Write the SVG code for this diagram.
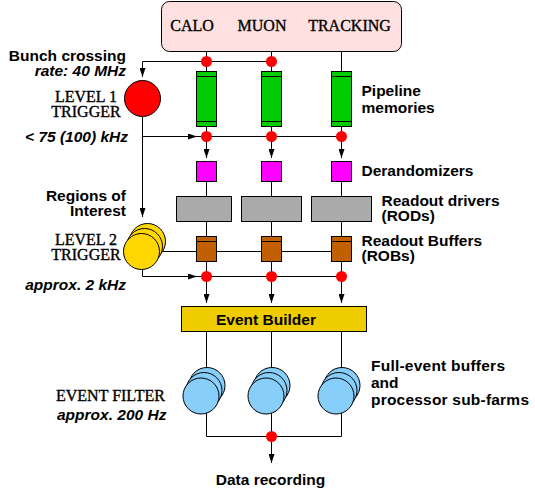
<svg xmlns="http://www.w3.org/2000/svg" width="535" height="492" viewBox="0 0 535 492">
<style>
.ln{fill:none;stroke:#000;stroke-width:1}
.bx{stroke:#000;stroke-width:1}
.dot{fill:#ff0000;stroke:none}
.serif{font-family:"Liberation Serif","Times New Roman",serif;font-size:16px;fill:#000;stroke:#000;stroke-width:0.35}
.sans{font-family:"Liberation Sans",Arial,sans-serif;font-weight:bold;font-size:15.5px;fill:#000}
.it{font-style:italic}
</style>
<defs>
<marker id="ah" viewBox="0 0 9 6" refX="9" refY="3" markerWidth="9" markerHeight="6" markerUnits="userSpaceOnUse" orient="auto">
<path d="M0,0 L9,3 L0,6 z" fill="#000"/>
</marker>
</defs>
<rect width="535" height="492" fill="#fff"/>

<g id="connectors" class="ln">
<path d="M206.5,51 V71 M271.5,51 V71 M341.5,51 V71"/>
<path d="M271.5,61.5 H142.5 V77" marker-end="url(#ah)"/>
<path d="M142.5,116 V217" marker-end="url(#ah)"/>
<path d="M142.5,136.5 H197" marker-end="url(#ah)"/>
<path d="M197,136.5 H341.5"/>
<path d="M206.5,126 V158" marker-end="url(#ah)"/>
<path d="M271.5,126 V158" marker-end="url(#ah)"/>
<path d="M341.5,126 V158" marker-end="url(#ah)"/>
<path d="M206.5,181 V236 M271.5,181 V236 M341.5,181 V236"/>
<path d="M160,251.5 H331"/>
<path d="M142.5,269 V276.5 H197" marker-end="url(#ah)"/>
<path d="M197,276.5 H341.5"/>
<path d="M206.5,261 V303" marker-end="url(#ah)"/>
<path d="M271.5,261 V303" marker-end="url(#ah)"/>
<path d="M341.5,261 V303" marker-end="url(#ah)"/>
<path d="M206.5,331 V372 M271.5,331 V372 M341.5,331 V372"/>
<path d="M206.5,413 V436.5 H341.5 V413 M271.5,413 V436.5"/>
<path d="M271.5,436.5 V463" marker-end="url(#ah)"/>
</g>

<g id="detectors">
<rect class="bx" x="161.5" y="1.5" width="240" height="50" rx="8" fill="#ffe0e0"/>
<text class="serif" x="192" y="30.5" text-anchor="middle">CALO</text>
<text class="serif" x="262" y="30.5" text-anchor="middle">MUON</text>
<text class="serif" x="349.5" y="30.5" text-anchor="middle">TRACKING</text>
</g>

<g id="dots">
<circle class="dot" cx="206.5" cy="61.5" r="5.5"/>
<circle class="dot" cx="271.5" cy="61.5" r="5.5"/>
<circle class="dot" cx="206.5" cy="136.5" r="5.5"/>
<circle class="dot" cx="271.5" cy="136.5" r="5.5"/>
<circle class="dot" cx="341.5" cy="136.5" r="5.5"/>
<circle class="dot" cx="206.5" cy="276.5" r="5.5"/>
<circle class="dot" cx="271.5" cy="276.5" r="5.5"/>
<circle class="dot" cx="341.5" cy="276.5" r="5.5"/>
<circle class="dot" cx="271.5" cy="436.5" r="5.5"/>
</g>

<g id="level1">
<circle class="bx" cx="142.5" cy="98.5" r="18" fill="#ff0000"/>
<text class="sans" x="126" y="60.5" text-anchor="end">Bunch crossing</text>
<text class="sans it" x="126" y="76" text-anchor="end">rate: 40 MHz</text>
<text class="serif" x="86" y="101.5" text-anchor="middle">LEVEL 1</text>
<text class="serif" x="86" y="116.5" text-anchor="middle">TRIGGER</text>
<text class="sans it" x="128" y="141.5" text-anchor="end">&lt; 75 (100) kHz</text>
</g>

<g id="pipeline">
<g class="bx" fill="#00cc00">
<rect x="196.5" y="71.5" width="20" height="55"/>
<rect x="261.5" y="71.5" width="20" height="55"/>
<rect x="331.5" y="71.5" width="20" height="55"/>
</g>
<path class="ln" d="M196.5,76.5 H216.5 M196.5,121.5 H216.5 M261.5,76.5 H281.5 M261.5,121.5 H281.5 M331.5,76.5 H351.5 M331.5,121.5 H351.5"/>
<text class="sans" x="361.5" y="96">Pipeline</text>
<text class="sans" x="361.5" y="112.5">memories</text>
</g>

<g id="derandomizers">
<g class="bx" fill="#ff00ff">
<rect x="196.5" y="161.5" width="20" height="20"/>
<rect x="261.5" y="161.5" width="20" height="20"/>
<rect x="331.5" y="161.5" width="20" height="20"/>
</g>
<text class="sans" x="361.5" y="176">Derandomizers</text>
</g>

<g id="rods">
<g class="bx" fill="#aaaaaa">
<rect x="176.5" y="196.5" width="55" height="25"/>
<rect x="241.5" y="196.5" width="60" height="25"/>
<rect x="311.5" y="196.5" width="60" height="25"/>
</g>
<text class="sans" x="381.5" y="206">Readout drivers</text>
<text class="sans" x="381.5" y="221">(RODs)</text>
</g>

<g id="robs">
<g class="bx" fill="#c06000">
<rect x="196.5" y="236.5" width="20" height="25"/>
<rect x="261.5" y="236.5" width="20" height="25"/>
<rect x="331.5" y="236.5" width="20" height="25"/>
</g>
<path class="ln" d="M196.5,241.5 H216.5 M261.5,241.5 H281.5 M331.5,241.5 H351.5"/>
<text class="sans" x="361.5" y="245.5">Readout Buffers</text>
<text class="sans" x="361.5" y="261">(ROBs)</text>
</g>

<g id="level2">
<g class="bx" fill="#ffd700">
<circle cx="147.5" cy="241.5" r="18"/>
<circle cx="144.5" cy="246.5" r="18"/>
<circle cx="141.5" cy="251.5" r="18"/>
</g>
<text class="sans" x="126" y="200.5" text-anchor="end">Regions of</text>
<text class="sans" x="126" y="215.5" text-anchor="end">Interest</text>
<text class="serif" x="86" y="245" text-anchor="middle">LEVEL 2</text>
<text class="serif" x="86" y="260" text-anchor="middle">TRIGGER</text>
<text class="sans it" x="126" y="290" text-anchor="end">approx. 2 kHz</text>
</g>

<g id="event-builder">
<rect class="bx" x="181.5" y="306.5" width="185" height="25" fill="#eecc00"/>
<text class="sans" x="266" y="325" text-anchor="middle">Event Builder</text>
</g>

<g id="event-filter">
<g class="bx" fill="#87cefa">
<circle cx="207" cy="385.5" r="18"/>
<circle cx="204" cy="390.5" r="18"/>
<circle cx="201" cy="396" r="18"/>
<circle cx="272" cy="385.5" r="18"/>
<circle cx="269" cy="390.5" r="18"/>
<circle cx="266" cy="396" r="18"/>
<circle cx="342" cy="385.5" r="18"/>
<circle cx="339" cy="390.5" r="18"/>
<circle cx="336" cy="396" r="18"/>
</g>
<text class="serif" x="56" y="400.5">EVENT FILTER</text>
<text class="sans it" x="57" y="420">approx. 200 Hz</text>
<text class="sans" x="371" y="371" textLength="134" lengthAdjust="spacing">Full-event buffers</text>
<text class="sans" x="371" y="387.5">and</text>
<text class="sans" x="371" y="404.5" textLength="158" lengthAdjust="spacing">processor sub-farms</text>
</g>

<g id="output">
<text class="sans" x="270.5" y="485" text-anchor="middle">Data recording</text>
</g>
</svg>
